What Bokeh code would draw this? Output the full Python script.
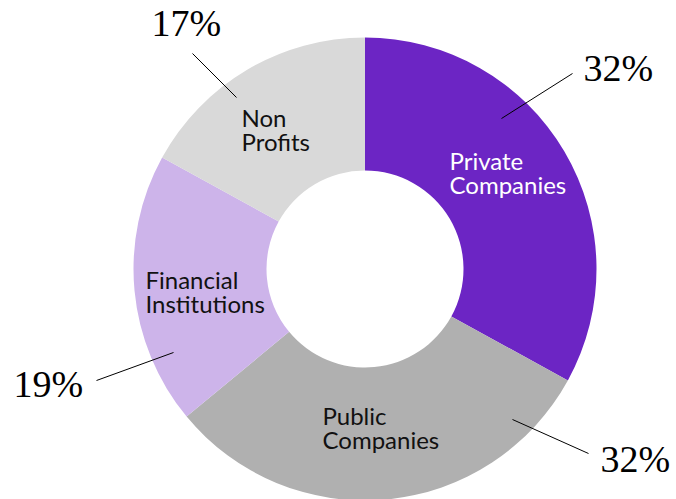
import math
from bokeh.plotting import figure
from bokeh.models import ColumnDataSource
from bokeh.core.properties import value
from bokeh.embed import file_html
from bokeh.resources import INLINE

# ---- data ----
categories = ["Private Companies", "Public Companies", "Financial Institutions", "Non Profits"]
shares = [33, 31, 19, 17]          # slice sizes as drawn
pct_labels = ["32%", "32%", "19%", "17%"]
label_lines = [["Private", "Companies"], ["Public", "Companies"], ["Financial", "Institutions"], ["Non", "Profits"]]
colors = ["#6C25C4", "#B0B0B0", "#CDB4EA", "#D9D9D9"]
text_colors = ["#FFFFFF", "#111111", "#111111", "#111111"]

# ---- layout (picture pixel coordinates) ----
W, H = 676, 499
CX, CY = 364.5, 268.5
R_OUT, R_IN = 231.5, 98.5
name_pos = [(449, 160), (322, 415), (145, 279), (241, 117)]      # left, first line anchor
pct_pos = [(583, 67), (600, 458), (13, 383), (151, 22)]           # left, anchor
leaders = [((572, 73), (501, 118)), ((588, 453), (512, 419)),
           ((96, 380), (173, 352)), ((192, 53), (236, 97))]
LINE_H = 24

def fx(x):
    return x

def fy(y):
    return H - y

p = figure(width=W, height=H, x_range=(0, W), y_range=(0, H),
           output_backend="svg", toolbar_location=None,
           x_axis_type=None, y_axis_type=None, min_border=0)
p.grid.visible = False
p.outline_line_color = None
p.background_fill_color = "white"

total = sum(shares)
starts, ends = [], []
cum = 0
for s in shares:
    a0 = math.pi / 2 - 2 * math.pi * cum / total
    cum += s
    a1 = math.pi / 2 - 2 * math.pi * cum / total
    starts.append(a0)
    ends.append(a1)

src = ColumnDataSource(dict(start=starts, end=ends, color=colors, cat=categories))
p.annular_wedge(x=fx(CX), y=fy(CY), inner_radius=R_IN, outer_radius=R_OUT,
                start_angle="start", end_angle="end", direction="clock",
                fill_color="color", line_color=None, source=src)

# leader lines
for (a, b) in leaders:
    p.line([fx(a[0]), fx(b[0])], [fy(a[1]), fy(b[1])], line_color="#000000", line_width=1)

# category names
tx, ty, tt, tc = [], [], [], []
for lines, (lx, ly), c in zip(label_lines, name_pos, text_colors):
    for i, ln in enumerate(lines):
        tx.append(fx(lx)); ty.append(fy(ly + i * LINE_H)); tt.append(ln); tc.append(c)
p.text(x=tx, y=ty, text=tt, text_color=tc, text_font=value("Lato"),
       text_font_size="24px", text_align="left", text_baseline="alphabetic")

# percentages
p.text(x=[fx(x) for x, _ in pct_pos], y=[fy(y) for _, y in pct_pos], text=pct_labels,
       text_color="#000000", text_font=value("Liberation Serif"),
       text_font_size="38px", text_align="left", text_baseline="alphabetic")

open("out.html", "w").write(file_html(p, INLINE))
